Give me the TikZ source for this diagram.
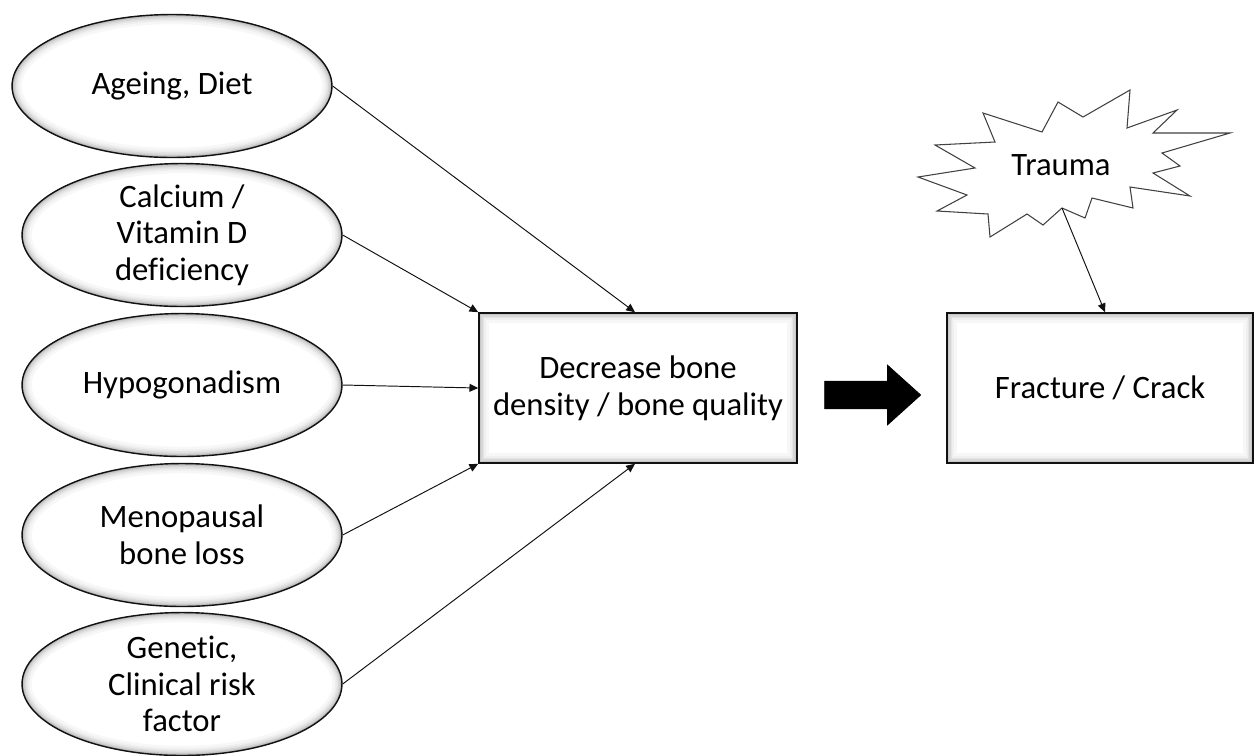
\documentclass[tikz,border=0pt]{standalone}
\usepackage{fontspec}
\setmainfont[Ligatures=NoCommon]{Carlito}
\usepackage{tikz}
\usetikzlibrary{arrows.meta,positioning,calc,shapes.geometric,shapes.arrows}
\definecolor{bink}{HTML}{111111}
\definecolor{bglow}{HTML}{7A7A7A}
\newcommand\nodefont{\fontsize{18.6}{20.8}\selectfont}
\tikzset{
  bubble/.style={ellipse,draw=bink,line width=0.8pt,fill=white,minimum width=6.4cm,minimum height=2.86cm,inner sep=-1mm,align=center,font=\nodefont,
    path picture={\foreach \w/\c in {11/6,8/12,6/20,4.2/30,2.6/42,1.4/58}
      \draw[line width=\w pt,bglow!\c] (path picture bounding box.center) ellipse [x radius=3.2cm,y radius=1.43cm];}},
  stage/.style={rectangle,draw=bink,line width=0.9pt,fill=white,minimum height=3cm,inner sep=2pt,align=center,font=\nodefont,
    path picture={\foreach \w/\c in {11/6,8/12,6/20,4.2/30,2.6/42,1.4/58}
      \draw[line width=\w pt,bglow!\c] (path picture bounding box.south west) rectangle (path picture bounding box.north east);}},
  burst/.style={draw=bink!80,line width=0.6pt,fill=white,line join=miter},
  conn/.style={-{Triangle[length=5pt,width=4.5pt]},line width=0.55pt,draw=bink},
  fatarrow/.style={single arrow,fill=black,draw=black,line width=0.4pt,inner xsep=0pt,inner ysep=0.27cm,minimum height=1.92cm,single arrow head extend=0.32cm,single arrow tip angle=84},
}

\begin{document}
\begin{tikzpicture}[x=0.02cm,y=-0.02cm]
  \useasboundingbox (0,0) rectangle (1256,755);
  % risk factors
  \node[bubble] (ageing) at (172,86) {Ageing, Diet};
  \node[bubble] (calcium) at (182,235) {Calcium /\\Vitamin D\\deficiency};
  \node[bubble] (hypo) at (182,385) {Hypogonadism};
  \node[bubble] (meno) at (182,535) {Menopausal\\bone loss};
  \node[bubble] (genetic) at (182,684) {Genetic,\\Clinical risk\\factor};
  % boxes
  \node[stage,minimum width=6.36cm] (density) at (638,388) {Decrease bone\\density / bone quality};
  \node[stage,minimum width=6.12cm] (fracture) at (1100,388) {Fracture / Crack};
  \node[fatarrow] (leads) at (865,395) {};
  % trauma burst
  \draw[burst] plot coordinates {(1130,90) (1127,128) (1177,110) (1153,133) (1230,133) (1162,153)
    (1180,166) (1153,173) (1190,196) (1130,187) (1133,208) (1092,198) (1085,218) (1062,208)
    (1043,225) (1027,214) (990,237) (988,214) (937,211) (967,195) (918,177) (975,168)
    (935,145) (995,142) (983,113) (1042,132) (1058,102) (1083,117)} -- cycle;
  \node[font=\nodefont] (trauma) at (1061,165) {Trauma};
  \coordinate (burst-tip) at (1062,208);
  % connectors
  \draw[conn] (ageing.east) -- ([xshift=-0.06cm]density.north);
  \draw[conn] (calcium.east) -- (density.north west);
  \draw[conn] (hypo.east) -- (density.west);
  \draw[conn] (meno.east) -- (density.south west);
  \draw[conn] (genetic.east) -- ([xshift=-0.06cm]density.south);
  \draw[conn] (burst-tip) -- ([xshift=0.1cm]fracture.north);
\end{tikzpicture}
\end{document}
